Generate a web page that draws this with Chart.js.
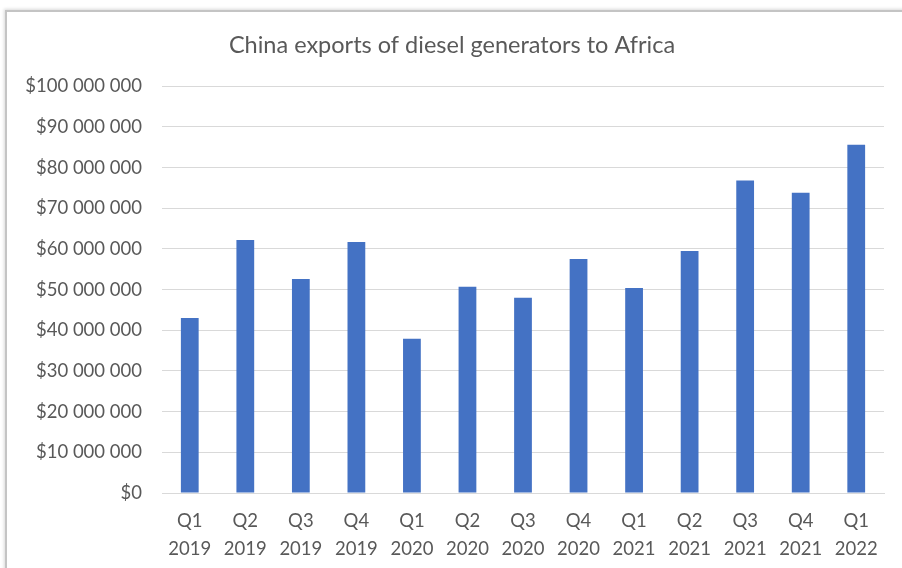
<!DOCTYPE html>
<html>
<head>
<meta charset="utf-8">
<script src="https://cdn.jsdelivr.net/npm/chart.js@4"></script>
<style>
  body { margin: 0; background: #fff; overflow: hidden; }
  .frame {
    position: absolute; left: 5px; top: 10px; width: 1000px; height: 1000px;
    border-top: 2px solid #c4c4c4; border-left: 2px solid #c4c4c4;
    box-shadow: -1px -1px 3px rgba(0,0,0,0.15);
  }
  .wrap { position: absolute; left: 0; top: 0; width: 902px; height: 568px; }
</style>
</head>
<body>
<div class="frame"></div>
<div class="wrap"><canvas id="exportsChart"></canvas></div>
<script>
const quarters = [
  ["Q1", "2019"], ["Q2", "2019"], ["Q3", "2019"], ["Q4", "2019"],
  ["Q1", "2020"], ["Q2", "2020"], ["Q3", "2020"], ["Q4", "2020"],
  ["Q1", "2021"], ["Q2", "2021"], ["Q3", "2021"], ["Q4", "2021"],
  ["Q1", "2022"]
];
const exportsUsd = [
  43000000, 62200000, 52600000, 61700000,
  37900000, 50700000, 48000000, 57500000,
  50400000, 59500000, 76800000, 73800000,
  85600000
];
const yMin = 0;
const yMax = 100000000;
const yStep = 10000000;

const textGrey = "#595959";
const gridGrey = "#d9d9d9";

function money(v) {
  return "$" + String(v).replace(/\B(?=(\d{3})+(?!\d))/g, " ");
}

const ctx = document.getElementById("exportsChart").getContext("2d");

new Chart(ctx, {
  type: "bar",
  data: {
    labels: quarters,
    datasets: [
      {
        label: "Exports",
        data: exportsUsd,
        backgroundColor: "#4472c4",
        barPercentage: 0.64,
        categoryPercentage: 0.5,
      },
    ],
  },
  options: {
    responsive: true,
    maintainAspectRatio: false,
    animation: false,
    layout: {
      padding: { left: 20, right: 18, top: 0, bottom: 0 },
    },
    plugins: {
      legend: { display: false },
      tooltip: { enabled: false },
      title: {
        display: true,
        text: "China exports of diesel generators to Africa",
        color: textGrey,
        font: { family: "Lato", size: 23.5, weight: "normal" },
        padding: { top: 31, bottom: 27 },
      },
    },
    scales: {
      x: {
        grid: { display: false, drawTicks: false },
        border: { display: true, color: gridGrey, width: 1 },
        ticks: {
          color: textGrey,
          font: { family: "Lato", size: 18.5, lineHeight: 1.5 },
          padding: 14,
          maxRotation: 0,
          autoSkip: false,
        },
        afterFit: (scale) => { scale.height = 75; },
      },
      y: {
        min: yMin,
        max: yMax,
        grid: { color: gridGrey, drawTicks: false },
        border: { display: false },
        ticks: {
          stepSize: yStep,
          color: textGrey,
          font: { family: "Lato", size: 18.5 },
          padding: 20,
          callback: (v) => money(v),
        },
        afterFit: (scale) => { scale.width = 142; },
      },
    },
  },
});
</script>
</body>
</html>
